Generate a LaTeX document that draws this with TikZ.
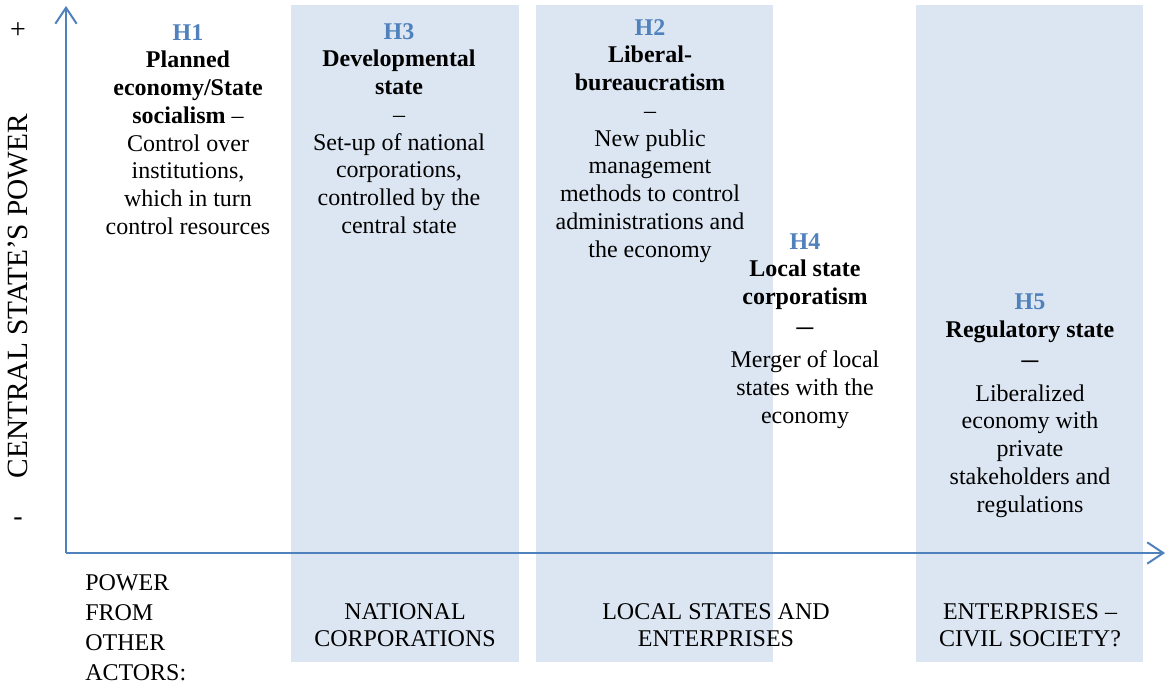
\documentclass[tikz,border=0pt]{standalone}
\usepackage{fontspec}
\setmainfont{Liberation Serif}
\usepackage{tikz}
\usetikzlibrary{arrows.meta}
\definecolor{axisblue}{HTML}{4F81BD}
\definecolor{panelblue}{HTML}{DCE6F2}
\tikzstyle{hyp} = [align=center, inner sep=0pt, anchor=north,
    font=\fontsize{18}{20.8}\selectfont]
\tikzstyle{actor} = [align=center, inner sep=0pt, anchor=north,
    font=\fontsize{18}{20.3}\selectfont]
\tikzstyle{panel} = [fill=panelblue]
\tikzstyle{axis} = [draw=axisblue, line width=1.5pt,
    -{Straight Barb[length=12pt, width=16pt]}]
\newcommand{\hnum}[1]{\textcolor{axisblue}{\textbf{#1}}}
\newcommand{\bigdash}{{\fontsize{25}{20}\selectfont –}}

\begin{document}
\begin{tikzpicture}[x=0.75pt, y=-0.75pt]
    \useasboundingbox (0,0) rectangle (1167,688);

    % Panels
    \fill [panel] (291,5) rectangle (519,662);
    \fill [panel] (536,5) rectangle (773,662);
    \fill [panel] (916,5) rectangle (1143,662);

    % Axes
    \coordinate (origin) at (66,553);
    \coordinate (ytop) at (66,6);
    \coordinate (xend) at (1165,553);
    \draw [axis] (origin) -- (ytop);
    \draw [axis] (origin) -- (xend);

    % Vertical axis labels
    \node [font=\fontsize{21}{24}\selectfont] (plus) at (18,31) {+};
    \node [font=\fontsize{21}{24}\selectfont] (minus) at (18,522) {-};
    \node [rotate=90, font=\fontsize{22}{26}\selectfont] (power) at (18,296)
        {CENTRAL STATE’S POWER};

    % Place hypotheses
    \node [hyp] (h1) at (188,24) {\hnum{H1}\\ \textbf{Planned}\\
        \textbf{economy/State}\\ \textbf{socialism} –\\ Control over\\
        institutions,\\ which in turn\\ control resources};
    \node [hyp] (h3) at (399,23) {\hnum{H3}\\ \textbf{Developmental}\\
        \textbf{state}\\ –\\ Set-up of national\\ corporations,\\
        controlled by the\\ central state};
    \node [hyp] (h2) at (650,19) {\hnum{H2}\\ \textbf{Liberal-}\\
        \textbf{bureaucratism}\\ –\\ New public\\ management\\
        methods to control\\ administrations and\\ the economy};
    \node [hyp] (h4) at (805,233) {\hnum{H4}\\ \textbf{Local state}\\
        \textbf{corporatism}\\[3pt] \bigdash\\[3pt] Merger of local\\
        states with the\\ economy};
    \node [hyp] (h5) at (1030,294) {\hnum{H5}\\ \textbf{Regulatory state}\\[3pt]
        \bigdash\\[3pt] Liberalized\\ economy with\\ private\\
        stakeholders and\\ regulations};

    % Other actors
    \node [actor, anchor=north west, align=left,
        font=\fontsize{18}{22.5}\selectfont] (actors) at (85,574)
        {POWER\\ FROM\\ OTHER\\ ACTORS:};
    \node [actor] (natcorp) at (405,603) {NATIONAL\\ CORPORATIONS};
    \node [actor] (localent) at (716,603) {LOCAL STATES AND\\ ENTERPRISES};
    \node [actor] (civsoc) at (1030,603) {ENTERPRISES –\\ CIVIL SOCIETY?};

\end{tikzpicture}
\end{document}
